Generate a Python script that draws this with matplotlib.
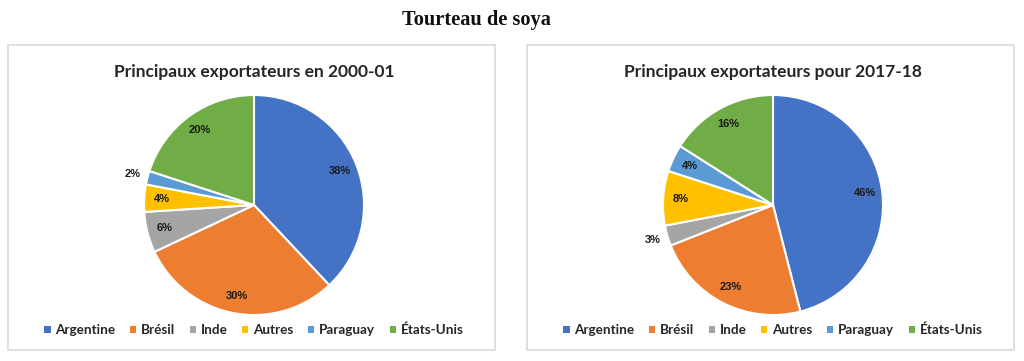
import matplotlib
matplotlib.use('Agg')
import matplotlib.pyplot as plt
from matplotlib.patches import Patch, Rectangle

# data
pays = ['Argentine', 'Brésil', 'Inde', 'Autres', 'Paraguay', 'États-Unis']
parts_2000 = [38, 30, 6, 4, 2, 20]
parts_2017 = [46, 23, 3, 8, 4, 16]
couleurs = ['#4472C4', '#ED7D31', '#A5A5A5', '#FFC000', '#5B9BD5', '#70AD47']
titre = 'Tourteau de soya'
sous_titres = ['Principaux exportateurs en 2000-01', 'Principaux exportateurs pour 2017-18']

W, H = 1024, 361
fig = plt.figure(figsize=(W/100, H/100), dpi=100)
fig.patch.set_facecolor('white')

fig.text(476/W, 1 - 20/H, titre, ha='center', va='center',
         family='Liberation Serif', weight='bold', fontsize=14.7, color='#111111')

def panneau(x0, x1, cx, vals, st):
    # cadre du graphique
    fig.patches.append(Rectangle((x0/W, 1 - 350/H), (x1-x0)/W, 305/H,
                                 transform=fig.transFigure, fill=False,
                                 edgecolor='#D9D9D9', lw=1.2))
    fig.text(cx/W, 1 - 72/H, st, ha='center', va='center',
             family='Lato', weight='bold', fontsize=12.5, color='#262626')
    R = 110
    s = 1.3 * R
    ax = fig.add_axes([(cx - s)/W, (H - 205 - s)/H, 2*s/W, 2*s/H])
    wedges, texts, autotexts = ax.pie(vals, colors=couleurs, startangle=90, counterclock=False,
                                      autopct='%d%%', pctdistance=0.84,
                                      wedgeprops=dict(edgecolor='white', linewidth=1.5),
                                      textprops=dict(family='Liberation Sans', weight='bold',
                                                     fontsize=8, color='#1a1a1a'))
    for v, t in zip(vals, autotexts):
        if v <= 3:
            x, y = t.get_position()
            t.set_position((x * 1.14/0.84, y * 1.14/0.84))
    ax.set_xlim(-1.3, 1.3)
    ax.set_ylim(-1.3, 1.3)
    ax.set_aspect('equal')
    handles = [Patch(facecolor=c, edgecolor='none') for c in couleurs]
    fig.legend(handles, pays, loc='center', bbox_to_anchor=(cx/W, 1 - 330/H), ncol=6,
               frameon=False, handlelength=0.45, handleheight=0.45, handletextpad=0.35,
               columnspacing=1.1, prop=dict(family='Lato', weight='bold', size=9.7),
               labelcolor='#262626')

panneau(8, 495, 254, parts_2000, sous_titres[0])
panneau(527, 1014, 773, parts_2017, sous_titres[1])

fig.savefig('out.png', dpi=100)
